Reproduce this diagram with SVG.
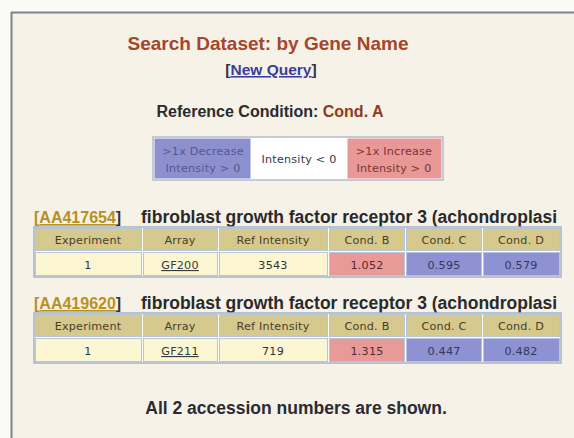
<svg xmlns="http://www.w3.org/2000/svg" width="574" height="438" viewBox="0 0 574 438">
  <style>
    .h { font-family: "Liberation Sans", Arial, sans-serif; font-weight: bold; }
    .t { font-family: "DejaVu Sans", Verdana, sans-serif; font-size: 11.2px; text-anchor: middle; letter-spacing: 0.2px; }
    .hdr { fill: #d6c98e; stroke: #b9c5d4; stroke-width: 1; }
    .dat { fill: #fcf7d2; stroke: #b9c5d4; stroke-width: 1; }
    .up { fill: #e89a98; stroke: #b9c5d4; stroke-width: 1; }
    .dn { fill: #8f92d2; stroke: #b9c5d4; stroke-width: 1; }
    .tbl { fill: #ffffff; stroke: #a3b2c6; stroke-width: 1.5; }
    .acc { fill: #b8901c; }
  </style>

  <!-- page background and window frame -->
  <rect x="0" y="0" width="574" height="438" fill="#fbfaf6"/>
  <rect x="12" y="13" width="570" height="440" fill="#f6f2e8"/>
  <line x1="11" y1="12.5" x2="574" y2="12.5" stroke="#7b8292" stroke-width="2"/>
  <line x1="11.5" y1="12" x2="11.5" y2="438" stroke="#7b8292" stroke-width="2"/>

  <!-- heading -->
  <g id="title">
    <text class="h" x="268" y="50" font-size="19" text-anchor="middle" fill="#a5452b">Search Dataset: by Gene Name</text>
    <text class="h" x="271" y="75" font-size="15.5" text-anchor="middle" fill="#333344">[<tspan fill="#3b3f9c" text-decoration="underline">New Query</tspan>]</text>
    <text class="h" x="270" y="117" font-size="16" text-anchor="middle" fill="#2b2b2b">Reference Condition: <tspan fill="#8e3a22">Cond. A</tspan></text>
  </g>

  <!-- colour legend -->
  <g id="legend">
    <rect x="153" y="137" width="290" height="43" fill="#ffffff" stroke="#b4bcc6" stroke-width="1.5"/>
    <rect x="154.5" y="138.5" width="96" height="40" fill="#8d90cf"/>
    <rect x="251.5" y="138.5" width="95" height="40" fill="#ffffff"/>
    <rect x="347.5" y="138.5" width="94" height="40" fill="#e89896"/>
    <text class="t" x="203" y="155" fill="#55578c">&gt;1x Decrease</text>
    <text class="t" x="203" y="172" fill="#55578c">Intensity &gt; 0</text>
    <text class="t" x="299" y="163" fill="#3a3a4a">Intensity &lt; 0</text>
    <text class="t" x="394" y="155" fill="#7a3434">&gt;1x Increase</text>
    <text class="t" x="394" y="172" fill="#7a3434">Intensity &gt; 0</text>
  </g>

  <!-- first accession -->
  <g id="gene1">
    <text class="h" x="34" y="223" font-size="16" fill="#333333"><tspan class="acc">[</tspan><tspan class="acc" text-decoration="underline">AA417654</tspan>]</text>
    <text class="h" x="141" y="223" font-size="17.5" fill="#2a2a2a">fibroblast growth factor receptor 3 (achondroplasi</text>
    <rect class="tbl" x="34" y="227" width="527" height="50"/>
    <rect class="hdr" x="35.5" y="228.5" width="106" height="22"/>
    <rect class="hdr" x="143.5" y="228.5" width="74" height="22"/>
    <rect class="hdr" x="219.5" y="228.5" width="108" height="22"/>
    <rect class="hdr" x="329.5" y="228.5" width="75" height="22"/>
    <rect class="hdr" x="406.5" y="228.5" width="75" height="22"/>
    <rect class="hdr" x="483.5" y="228.5" width="76" height="22"/>
    <rect class="dat" x="35.5" y="252.5" width="106" height="23"/>
    <rect class="dat" x="143.5" y="252.5" width="74" height="23"/>
    <rect class="dat" x="219.5" y="252.5" width="108" height="23"/>
    <rect class="up" x="329.5" y="252.5" width="75" height="23"/>
    <rect class="dn" x="406.5" y="252.5" width="75" height="23"/>
    <rect class="dn" x="483.5" y="252.5" width="76" height="23"/>
    <g fill="#4a3e28">
      <text class="t" x="88" y="244">Experiment</text>
      <text class="t" x="180" y="244">Array</text>
      <text class="t" x="273" y="244">Ref Intensity</text>
      <text class="t" x="367" y="244">Cond. B</text>
      <text class="t" x="444" y="244">Cond. C</text>
      <text class="t" x="521" y="244">Cond. D</text>
    </g>
    <text class="t" x="88" y="269" fill="#333333">1</text>
    <text class="t" x="180" y="269" fill="#3a3a3a" text-decoration="underline">GF200</text>
    <text class="t" x="273" y="269" fill="#333333">3543</text>
    <text class="t" x="367" y="269" fill="#5a2a2a">1.052</text>
    <text class="t" x="444" y="269" fill="#35375e">0.595</text>
    <text class="t" x="521" y="269" fill="#35375e">0.579</text>
  </g>

  <!-- second accession -->
  <g id="gene2">
    <text class="h" x="34" y="309" font-size="16" fill="#333333"><tspan class="acc">[</tspan><tspan class="acc" text-decoration="underline">AA419620</tspan>]</text>
    <text class="h" x="141" y="309" font-size="17.5" fill="#2a2a2a">fibroblast growth factor receptor 3 (achondroplasi</text>
    <rect class="tbl" x="34" y="313" width="527" height="50"/>
    <rect class="hdr" x="35.5" y="314.5" width="106" height="22"/>
    <rect class="hdr" x="143.5" y="314.5" width="74" height="22"/>
    <rect class="hdr" x="219.5" y="314.5" width="108" height="22"/>
    <rect class="hdr" x="329.5" y="314.5" width="75" height="22"/>
    <rect class="hdr" x="406.5" y="314.5" width="75" height="22"/>
    <rect class="hdr" x="483.5" y="314.5" width="76" height="22"/>
    <rect class="dat" x="35.5" y="338.5" width="106" height="23"/>
    <rect class="dat" x="143.5" y="338.5" width="74" height="23"/>
    <rect class="dat" x="219.5" y="338.5" width="108" height="23"/>
    <rect class="up" x="329.5" y="338.5" width="75" height="23"/>
    <rect class="dn" x="406.5" y="338.5" width="75" height="23"/>
    <rect class="dn" x="483.5" y="338.5" width="76" height="23"/>
    <g fill="#4a3e28">
      <text class="t" x="88" y="330">Experiment</text>
      <text class="t" x="180" y="330">Array</text>
      <text class="t" x="273" y="330">Ref Intensity</text>
      <text class="t" x="367" y="330">Cond. B</text>
      <text class="t" x="444" y="330">Cond. C</text>
      <text class="t" x="521" y="330">Cond. D</text>
    </g>
    <text class="t" x="88" y="355" fill="#333333">1</text>
    <text class="t" x="180" y="355" fill="#3a3a3a" text-decoration="underline">GF211</text>
    <text class="t" x="273" y="355" fill="#333333">719</text>
    <text class="t" x="367" y="355" fill="#5a2a2a">1.315</text>
    <text class="t" x="444" y="355" fill="#35375e">0.447</text>
    <text class="t" x="521" y="355" fill="#35375e">0.482</text>
  </g>

  <!-- footer -->
  <g id="footer">
    <text class="h" x="296" y="414" font-size="17.5" text-anchor="middle" fill="#2b2b33">All 2 accession numbers are shown.</text>
  </g>
</svg>
